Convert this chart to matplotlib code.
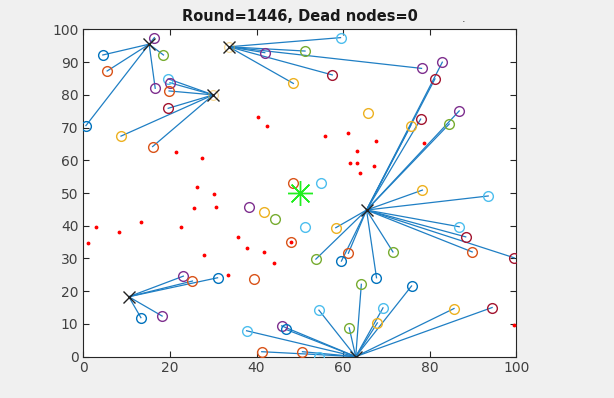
import matplotlib
matplotlib.use("Agg")
import matplotlib.pyplot as plt

# MATLAB default colour order
COLORS = {
    "b": "#0072BD", "o": "#D95319", "y": "#EDB120", "p": "#7E2F8E",
    "g": "#77AC30", "lb": "#4DBEEE", "r": "#A2142F",
}

# cluster heads
ch_x = [15.2, 33.6, 30.0, 10.5, 65.4, 62.9]
ch_y = [95.5, 94.7, 80.0, 18.3, 44.8, 0.0]

# member nodes: x, y, colour, cluster head index (-1 = no link)
node_x = [4.5, 5.5, 0.6, 16.4, 18.5, 16.6,
          59.4, 51.2, 41.9, 57.5, 48.5, 78.1,
          19.6, 20.0, 19.8, 19.6, 8.7, 16.0,
          23.1, 25.2, 31.0, 13.3, 18.2,
          82.9, 81.2, 86.8, 84.5, 77.9, 75.6, 78.3, 93.5, 86.8, 88.3, 89.8,
          99.5, 71.5, 67.7, 61.2, 59.6, 53.7, 58.3,
          64.2, 75.8, 69.2, 67.9, 61.4, 85.6, 94.4, 54.4, 50.6, 54.4, 37.7,
          45.8, 46.8, 41.2,
          48.5, 55.0, 38.2, 41.7, 44.2, 51.2, 47.9, 39.4, 65.8]
node_y = [92.2, 87.3, 70.6, 97.5, 92.2, 82.0,
          97.5, 93.4, 92.9, 86.1, 83.5, 88.1,
          84.9, 83.7, 81.2, 75.9, 67.4, 64.2,
          24.6, 23.1, 24.1, 11.9, 12.4,
          90.0, 84.9, 75.1, 71.1, 72.6, 70.6, 50.9, 49.1, 39.7, 36.6, 32.0,
          30.2, 32.0, 24.1, 31.6, 29.2, 29.8, 39.4,
          22.1, 21.6, 14.9, 10.3, 8.8, 14.7, 15.0, 14.2, 1.5, 0.0, 7.9,
          9.4, 8.3, 1.5,
          53.0, 53.0, 45.6, 44.1, 42.0, 39.7, 35.1, 23.6, 74.4]
node_c = ["b", "o", "b", "p", "g", "p",
          "lb", "g", "p", "r", "y", "p",
          "lb", "p", "o", "r", "y", "o",
          "p", "o", "b", "b", "p",
          "p", "r", "p", "g", "r", "y", "y", "lb", "lb", "r", "o",
          "r", "g", "b", "o", "b", "g", "y",
          "g", "b", "lb", "y", "g", "y", "r", "lb", "o", "lb", "lb",
          "p", "b", "o",
          "o", "lb", "p", "y", "g", "lb", "o", "o", "y"]
node_ch = [0] * 6 + [1] * 6 + [2] * 6 + [3] * 5 + [4] * 18 + [5] * 14 + [-1] * 9

# dead / ordinary nodes (red dots)
dot_x = [40.4, 42.5, 55.8, 21.4, 27.3, 26.2, 30.2, 61.2, 67.5, 63.2, 61.5,
         63.1, 67.1, 63.9, 78.7, 25.5, 30.6, 2.9, 13.3, 8.3, 1.0, 22.5,
         35.8, 37.8, 41.7, 27.9, 44.0, 33.5, 47.9, 99.5]
dot_y = [73.3, 70.6, 67.4, 62.6, 60.6, 51.9, 49.6, 68.3, 65.9, 62.9, 59.1,
         59.3, 58.4, 56.2, 65.4, 45.3, 45.6, 39.5, 41.0, 38.0, 34.6, 39.5,
         36.6, 33.3, 32.0, 31.0, 28.7, 24.9, 35.1, 9.6]

sink_x, sink_y = 50, 50

fig = plt.figure(figsize=(6.14, 3.98), dpi=100, facecolor="#f0f0f0")
ax = fig.add_axes([0.1357, 0.104, 0.7053, 0.822])
ax.set_facecolor("white")

for x, y, ch in zip(node_x, node_y, node_ch):
    if ch >= 0:
        ax.plot([x, ch_x[ch]], [y, ch_y[ch]], color="#1f7fc4", lw=0.9, zorder=2)

for x, y, c in zip(node_x, node_y, node_c):
    ax.plot(x, y, "o", ms=7, mfc="none", mec=COLORS[c], mew=1.0, zorder=3)

ax.plot(ch_x[1:3], ch_y[1:3], "o", ms=7, mfc="none", mec="#EDB120", mew=0.8,
        alpha=0.5, zorder=3)
ax.plot(ch_x, ch_y, "x", color="#222222", ms=8, mew=1.0, zorder=4)
ax.plot(dot_x, dot_y, ".", color="red", ms=3.5, zorder=3)
# MATLAB-style asterisk for the sink
ax.plot(sink_x, sink_y, marker=(8, 2, 0), color="#22ee22", ms=18, mew=1.0,
        ls="none", zorder=4)

ax.set_xlim(0, 100)
ax.set_ylim(0, 100)
ax.set_xticks(range(0, 101, 20))
ax.set_yticks(range(0, 101, 10))
ax.tick_params(direction="in", top=True, right=True, length=4, width=0.8,
               labelsize=10, colors="#262626", labelcolor="#404040")
for s in ax.spines.values():
    s.set_color("#262626")
    s.set_linewidth(0.8)

ax.set_title("Round=1446, Dead nodes=0", fontsize=10.5, fontweight="bold",
             color="#1a1a1a", pad=6)
fig.text(0.752, 0.945, ".", fontsize=8, color="#333333")

fig.savefig("out.png", dpi=100, facecolor=fig.get_facecolor())
